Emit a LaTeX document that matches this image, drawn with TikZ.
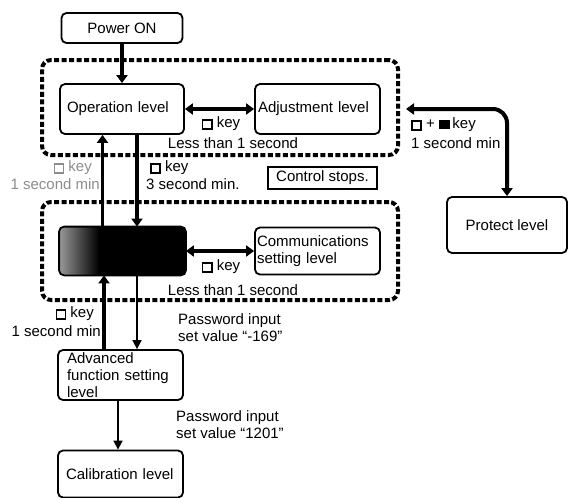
\documentclass[tikz,border=0pt]{standalone}
\usepackage{fontspec}
\setmainfont{Liberation Sans}
\usetikzlibrary{arrows.meta}
\newcommand{\ksq}{\raisebox{-0.3pt}{\fboxsep=0pt\fboxrule=1.6pt\fbox{\rule{0pt}{7.5pt}\hspace{7.5pt}}}}
\newcommand{\ksqf}{\rule{11pt}{8.5pt}}
\begin{document}
\begin{tikzpicture}[x=1pt,y=-1pt,
  font=\fontsize{15}{17}\selectfont,
  box/.style={draw, line width=1.8pt, rounded corners=5pt, inner sep=0pt, fill=white},
  grp/.style={draw, line width=4pt, dash pattern=on 5pt off 2.5pt, rounded corners=9pt, inner sep=0pt},
  thickarr/.style={line width=3.5pt, -{Triangle[length=8pt,width=11pt]}},
  dblarr/.style={line width=4pt, {Triangle[length=8pt,width=11pt]}-{Triangle[length=8pt,width=11pt]}},
  thinarr/.style={line width=1.6pt, -{Triangle[length=9pt,width=9pt]}},
  lbl/.style={inner sep=0pt},
  faded/.style={inner sep=0pt, text=black!45}
]
\useasboundingbox (0,0) rectangle (568,498);

% groups
\node[grp, minimum width=356pt, minimum height=95pt] (grp1) at (220,107.5) {};
\node[grp, minimum width=356pt, minimum height=98pt] (grp2) at (220,251) {};

% boxes
\node[box, minimum width=121pt, minimum height=30pt] (power) at (122,28) {Power ON};
\node[box, minimum width=124pt, minimum height=50pt, text width=110pt, align=left] (op) at (122,109) {Operation level};
\node[box, minimum width=125pt, minimum height=50pt, text width=119pt, align=left] (adj) at (317.5,109) {Adjustment level};
\node[draw, line width=1.3pt, inner sep=0pt, minimum width=109pt, minimum height=22pt] (ctrl) at (322.5,178) {Control stops.};
\node[box, fill=black, minimum width=125pt, minimum height=47pt] (init) at (122.5,251) {};
\begin{scope}
  \clip[rounded corners=5pt] (init.north west) rectangle (init.south east);
  \shade[left color=black!40, right color=black] (init.north west) rectangle ([xshift=40pt]init.south west);
\end{scope}
\draw[line width=1.8pt, rounded corners=5pt] (init.north west) rectangle (init.south east);
\node[box, minimum width=125pt, minimum height=47pt, text width=121pt, align=left] (comm) at (317.5,251) {Communications\\setting level};
\node[box, minimum width=120pt, minimum height=56pt] (prot) at (507,225) {Protect level};
\node[box, minimum width=125pt, minimum height=50pt, text width=107pt, align=left] (adv) at (120.5,375) {Advanced\\function setting\\level};
\node[box, minimum width=125pt, minimum height=47pt, text width=109pt, align=left] (cal) at (120.5,474) {Calibration level};

% connectors
\draw[thickarr] (power) -- (op);
\draw[dblarr] (op) -- (adj);
\draw[thickarr] ([xshift=15pt]op.south) -- ([xshift=15pt]op.south |- init.north);
\draw[thickarr] ([xshift=-20pt]init.north) -- ([xshift=-20pt]init.north |- op.south);
\draw[dblarr] (init) -- (comm);
\draw[thickarr] ([xshift=-16.5pt]adv.north) -- ([xshift=-16.5pt]adv.north |- init.south);
\draw[thinarr] ([xshift=14.5pt]init.south) -- ([xshift=14.5pt]init.south |- adv.north);
\draw[thinarr] ([xshift=-2.5pt]adv.south) -- ([xshift=-2.5pt]cal.north);
\path (grp1.east |- adj.east) coordinate (pa0);
\coordinate (pa) at ([xshift=6pt]pa0);
\draw[dblarr, rounded corners=14pt] (pa) -| (prot.north);

% labels
\node[lbl] (k1) at (221,124) {\ksq\ key};
\node[lbl] (l1) at (233,143) {Less than 1 second};
\node[faded, anchor=east] (k2) at (92,168) {\ksq\ key};
\node[faded, anchor=east] (s2) at (100,184) {1 second min};
\node[lbl, anchor=west] (k3) at (150,168) {\ksq\ key};
\node[lbl, anchor=west] (s3) at (146,184) {3 second min.};
\node[lbl] (k4) at (221,267) {\ksq\ key};
\node[lbl] (l4) at (233,290) {Less than 1 second};
\node[lbl, anchor=east] (k5) at (94,314) {\ksq\ key};
\node[lbl, anchor=east] (s5) at (101,331) {1 second min};
\node[lbl, anchor=west, align=left] (pw1) at (178,328) {Password input\\set value “-169”};
\node[lbl, anchor=west, align=left] (pw2) at (176,425) {Password input\\set value “1201”};
\node[lbl, anchor=west] (k6) at (411,125) {\ksq\ + \ksqf\,key};
\node[lbl, anchor=west] (s6) at (411,143) {1 second min};
\end{tikzpicture}
\end{document}
